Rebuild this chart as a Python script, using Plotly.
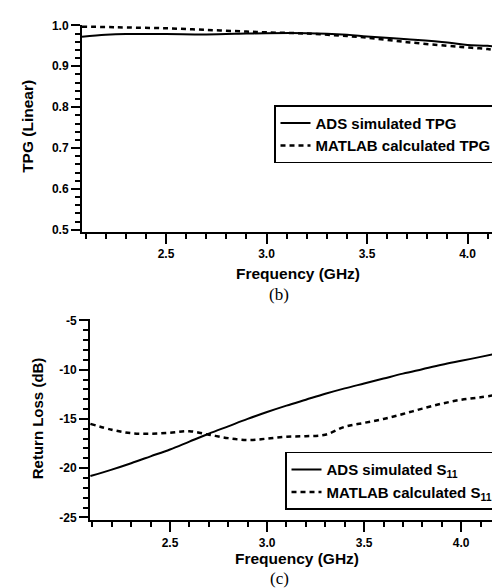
import plotly.graph_objects as go

# ---------------- data ----------------
freq_tpg = [2.082, 2.2, 2.3, 2.5, 2.7, 2.9, 3.0, 3.2, 3.4, 3.5, 3.7, 3.9, 4.0, 4.1, 4.2]
ads_tpg = [0.972, 0.977, 0.979, 0.979, 0.978, 0.980, 0.981, 0.981, 0.977, 0.973, 0.966, 0.958, 0.952, 0.950, 0.944]
matlab_tpg = [0.997, 0.996, 0.995, 0.993, 0.989, 0.985, 0.983, 0.980, 0.974, 0.970, 0.959, 0.950, 0.946, 0.942, 0.934]

freq_s11 = [2.09, 2.2, 2.3, 2.4, 2.5, 2.6, 2.7, 2.8, 2.9, 3.0, 3.1, 3.2, 3.3, 3.4, 3.5, 3.6, 3.7, 3.8, 3.9, 4.0, 4.1, 4.2]
ads_s11 = [-20.8, -20.15, -19.5, -18.8, -18.1, -17.3, -16.5, -15.75, -15.0, -14.3, -13.65, -13.05, -12.45, -11.9, -11.4, -10.9, -10.4, -9.95, -9.5, -9.1, -8.7, -8.3]
matlab_s11 = [-15.5, -16.1, -16.45, -16.5, -16.4, -16.25, -16.6, -16.95, -17.15, -17.0, -16.8, -16.75, -16.6, -15.8, -15.4, -15.0, -14.5, -13.95, -13.45, -13.05, -12.8, -12.5]

x_tickvals = [2.5, 3.0, 3.5, 4.0]
x_ticktext = ["2.5", "3.0", "3.5", "4.0"]
tpg_tickvals = [0.5, 0.6, 0.7, 0.8, 0.9, 1.0]
tpg_ticktext = ["0.5", "0.6", "0.7", "0.8", "0.9", "1.0"]
rl_tickvals = [-25, -20, -15, -10, -5]
rl_ticktext = ["-25", "-20", "-15", "-10", "-5"]

legend_tpg = ["ADS simulated TPG", "MATLAB calculated TPG"]
legend_s11 = ["ADS simulated S<sub>11</sub>", "MATLAB calculated S<sub>11</sub>"]

SANS = "Liberation Sans"
SERIF = "Liberation Serif"
DASH = "5px,4px"

fig = go.Figure()

fig.add_trace(go.Scatter(x=freq_tpg, y=ads_tpg, mode="lines", name=legend_tpg[0],
                         line=dict(color="black", width=2, shape="spline"),
                         xaxis="x", yaxis="y", legend="legend"))
fig.add_trace(go.Scatter(x=freq_tpg, y=matlab_tpg, mode="lines", name=legend_tpg[1],
                         line=dict(color="black", width=2.5, dash=DASH, shape="spline"),
                         xaxis="x", yaxis="y", legend="legend"))
fig.add_trace(go.Scatter(x=freq_s11, y=ads_s11, mode="lines", name=legend_s11[0],
                         line=dict(color="black", width=2, shape="spline"),
                         xaxis="x2", yaxis="y2", legend="legend2"))
fig.add_trace(go.Scatter(x=freq_s11, y=matlab_s11, mode="lines", name=legend_s11[1],
                         line=dict(color="black", width=2.5, dash=DASH, shape="spline"),
                         xaxis="x2", yaxis="y2", legend="legend2"))

tickfont = dict(family=SANS, size=12, color="black", weight="bold")
axis_common = dict(showline=True, linecolor="black", linewidth=2, showgrid=False,
                   zeroline=False, ticks="outside", tickwidth=2, tickcolor="black",
                   tickfont=tickfont, mirror=False)

fig.update_layout(
    width=500, height=588,
    margin=dict(l=0, r=0, t=0, b=0),
    paper_bgcolor="white", plot_bgcolor="white",
    xaxis=dict(domain=[74/500, 1.0], range=[2.082, 4.2015], anchor="y",
               tickvals=x_tickvals, ticktext=x_ticktext, ticklen=10,
               minor=dict(dtick=0.1, tick0=2.0, ticks="outside", ticklen=5, tickwidth=2, tickcolor="black"),
               **axis_common),
    yaxis=dict(domain=[(588-222)/588, (588-11)/588], range=[0.495, 1.0015], anchor="x",
               tickvals=tpg_tickvals, ticktext=tpg_ticktext, ticklen=9,
               minor=dict(dtick=0.02, tick0=0.5, ticks="outside", ticklen=5, tickwidth=2, tickcolor="black"),
               **axis_common),
    xaxis2=dict(domain=[82/500, 492/500], range=[2.088, 4.2], anchor="y2",
                tickvals=x_tickvals, ticktext=x_ticktext, ticklen=10,
                minor=dict(dtick=0.1, tick0=2.0, ticks="outside", ticklen=5, tickwidth=2, tickcolor="black"),
                **axis_common),
    yaxis2=dict(domain=[(588-516)/588, (588-311)/588], range=[-25.3, -4.87], anchor="x2",
                tickvals=rl_tickvals, ticktext=rl_ticktext, ticklen=9,
                minor=dict(dtick=1, tick0=-25, ticks="outside", ticklen=5, tickwidth=2, tickcolor="black"),
                **axis_common),
    legend=dict(x=266/500, y=(588-93)/588, xanchor="left", yanchor="top",
                bordercolor="black", borderwidth=1.5, bgcolor="white",
                font=dict(family=SANS, size=15, color="black", weight="bold"),
                tracegroupgap=0, itemwidth=30),
    legend2=dict(x=277/500, y=(588-446)/588, xanchor="left", yanchor="top",
                 bordercolor="black", borderwidth=1.5, bgcolor="white",
                 font=dict(family=SANS, size=15, color="black", weight="bold"),
                 tracegroupgap=0, itemwidth=30),
    showlegend=True,
)

titlefont = dict(family=SANS, size=15.5, color="black", weight="bold")
annotations = [
    dict(text="TPG (Linear)", x=20/500, y=(588-115)/588, textangle=-90, font=titlefont),
    dict(text="Frequency (GHz)", x=290/500, y=(588-264)/588, font=titlefont),
    dict(text="(b)", x=271/500, y=(588-286)/588,
         font=dict(family=SERIF, size=17, color="black")),
    dict(text="Return Loss (dB)", x=29/500, y=(588-412)/588, textangle=-90,
         font=dict(family=SANS, size=15, color="black", weight="bold")),
    dict(text="Frequency (GHz)", x=289/500, y=(588-555)/588, font=titlefont),
    dict(text="(c)", x=271/500, y=(588-575)/588,
         font=dict(family=SERIF, size=17, color="black")),
]
for a in annotations:
    fig.add_annotation(xref="paper", yref="paper", showarrow=False,
                       xanchor="center", yanchor="middle", **a)

fig.write_html("out.html")
